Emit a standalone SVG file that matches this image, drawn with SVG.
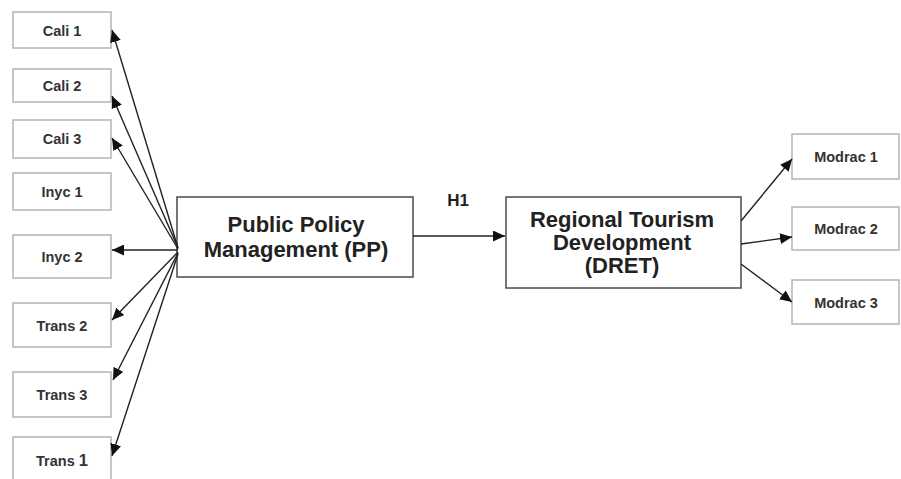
<svg xmlns="http://www.w3.org/2000/svg" width="901" height="479" viewBox="0 0 901 479">
<style>
.sb{fill:#fff;stroke:#b4b4b4;stroke-width:1.5}
.mb{fill:#fff;stroke:#4a4a4a;stroke-width:1.5}
.st{font-family:"Liberation Sans",Arial,sans-serif;font-weight:bold;font-size:14.5px;fill:#333;text-anchor:middle}
.mt{font-family:"Liberation Sans",Arial,sans-serif;font-weight:bold;font-size:22px;fill:#222;text-anchor:middle}
.ln{stroke:#222;stroke-width:1.4;fill:none;marker-end:url(#ah)}
</style>
<defs>
<marker id="ah" markerUnits="userSpaceOnUse" markerWidth="13" markerHeight="11" refX="12" refY="5.5" orient="auto">
<path d="M0,0 L12,5.5 L0,11 Z" fill="#111"/>
</marker>
</defs>
<rect width="901" height="479" fill="#fff"/>
<g id="cali1"><rect class="sb" x="13" y="12" width="98" height="36"/><text class="st" x="62" y="35.5">Cali 1</text></g>
<g id="cali2"><rect class="sb" x="13" y="69" width="98" height="33"/><text class="st" x="62" y="91">Cali 2</text></g>
<g id="cali3"><rect class="sb" x="13" y="120" width="98" height="38"/><text class="st" x="62" y="144">Cali 3</text></g>
<g id="inyc1"><rect class="sb" x="13" y="173" width="98" height="37"/><text class="st" x="62" y="197">Inyc 1</text></g>
<g id="inyc2"><rect class="sb" x="13" y="235" width="98" height="43"/><text class="st" x="62" y="262">Inyc 2</text></g>
<g id="trans2"><rect class="sb" x="13" y="303" width="98" height="44"/><text class="st" x="62" y="331">Trans 2</text></g>
<g id="trans3"><rect class="sb" x="13" y="372" width="98" height="45"/><text class="st" x="62" y="400">Trans 3</text></g>
<g id="trans1"><rect class="sb" x="13" y="437" width="98" height="60"/><text class="st" x="62" y="466">Trans <tspan font-size="16.5">1</tspan></text></g>
<g id="pp"><rect class="mb" x="177" y="197" width="236" height="80"/><text class="mt" x="296" y="231.5">Public Policy</text><text class="mt" x="296" y="256.5">Management (PP)</text></g>
<g id="dret"><rect class="mb" x="506" y="197" width="235" height="91"/><text class="mt" x="622" y="227">Regional Tourism</text><text class="mt" x="622" y="250">Development</text><text class="mt" x="622" y="273">(DRET)</text></g>
<g id="modrac1"><rect class="sb" x="792" y="134" width="107" height="45"/><text class="st" x="846" y="162">Modrac 1</text></g>
<g id="modrac2"><rect class="sb" x="792" y="207" width="107" height="43"/><text class="st" x="846" y="234">Modrac 2</text></g>
<g id="modrac3"><rect class="sb" x="792" y="280" width="107" height="44"/><text class="st" x="846" y="308">Modrac 3</text></g>
<g id="connectors">
<line class="ln" x1="178" y1="248" x2="112" y2="30"/>
<line class="ln" x1="178" y1="248" x2="112" y2="96"/>
<line class="ln" x1="178" y1="249" x2="112" y2="138"/>
<line class="ln" x1="178" y1="250" x2="112" y2="250"/>
<line class="ln" x1="178" y1="252" x2="112" y2="320"/>
<line class="ln" x1="178" y1="253" x2="113" y2="380"/>
<line class="ln" x1="178" y1="254" x2="112" y2="456"/>
<line class="ln" x1="413" y1="236" x2="505" y2="236"/>
<line class="ln" x1="741" y1="221" x2="792" y2="159"/>
<line class="ln" x1="741" y1="244" x2="792" y2="237"/>
<line class="ln" x1="741" y1="264" x2="792" y2="302"/>
</g>
<text x="458" y="206" font-family="Liberation Sans,Arial,sans-serif" font-weight="bold" font-size="17" fill="#222" text-anchor="middle">H1</text>
</svg>
